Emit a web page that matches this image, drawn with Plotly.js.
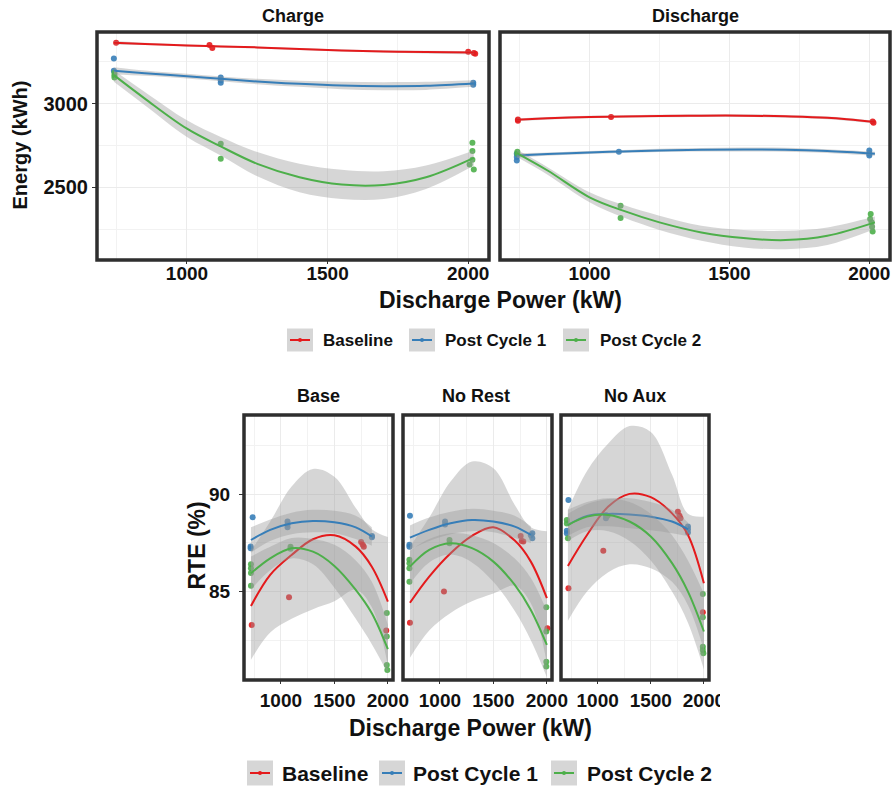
<!DOCTYPE html>
<html><head><meta charset="utf-8">
<script src="https://cdn.plot.ly/plotly-3.0.1.min.js"></script>
<style>html,body{margin:0;padding:0;background:#fff}</style>
</head><body><div id="chart" style="width:896px;height:789px"></div>
<script>
// ---------- labels ----------
const seriesNames = ['Baseline', 'Post Cycle 1', 'Post Cycle 2'];
const topFacets = ['Charge', 'Discharge'];
const btmFacets = ['Base', 'No Rest', 'No Aux'];
const xTitle = 'Discharge Power (kW)';
const topYTitle = 'Energy (kWh)';
const btmYTitle = 'RTE (%)';
const xTickVals = [1000, 1500, 2000];
const xMinorVals = [750, 1250, 1750];
const topYTickVals = [2500, 3000];
const topYMinorVals = [2250, 2750, 3250];
const btmYTickVals = [85, 90];
const btmYMinorVals = [82.5, 87.5, 92.5];

// ---------- top: Energy, Charge ----------
const topFitX = [740, 850, 1000, 1120, 1250, 1400, 1550, 1700, 1850, 2020];
const chargeBaseX = [748, 1080, 1090, 2000, 2020, 2025];
const chargeBaseY = [3364, 3350, 3332, 3310, 3302, 3298];
const chargeP1X = [740, 740, 1120, 1120, 1120, 2018, 2018];
const chargeP1Y = [3270, 3196, 3156, 3140, 3124, 3124, 3112];
const chargeP2X = [742, 742, 742, 1120, 1120, 2015, 2015, 2015, 2005, 2020];
const chargeP2Y = [3184, 3170, 3156, 2760, 2670, 2766, 2716, 2664, 2636, 2606];
const chargeBaseFit = [3364, 3357, 3348, 3342, 3336, 3326, 3318, 3312, 3308, 3305];
const chargeBaseLo = [3354, 3350, 3342, 3336, 3330, 3320, 3312, 3305, 3300, 3295];
const chargeBaseHi = [3374, 3364, 3354, 3348, 3342, 3332, 3324, 3319, 3316, 3315];
const chargeP1Fit = [3196, 3182, 3164, 3148, 3132, 3118, 3108, 3104, 3106, 3120];
const chargeP1Lo = [3174, 3166, 3150, 3134, 3116, 3100, 3086, 3080, 3082, 3100];
const chargeP1Hi = [3218, 3198, 3178, 3162, 3148, 3136, 3130, 3128, 3130, 3140];
const chargeP2Fit = [3170, 3030, 2850, 2744, 2640, 2560, 2516, 2514, 2560, 2676];
const chargeP2Lo = [3130, 2990, 2800, 2690, 2565, 2470, 2430, 2430, 2490, 2630];
const chargeP2Hi = [3200, 3070, 2900, 2800, 2710, 2640, 2604, 2596, 2630, 2720];

// ---------- top: Energy, Discharge ----------
const dischBaseX = [744, 744, 1077, 2012, 2015];
const dischBaseY = [2905, 2897, 2920, 2893, 2886];
const dischP1X = [740, 740, 740, 1105, 2000, 2000, 2000];
const dischP1Y = [2700, 2680, 2660, 2712, 2720, 2702, 2690];
const dischP2X = [742, 742, 1111, 1111, 2005, 2003, 2008, 2010, 2012];
const dischP2Y = [2712, 2700, 2390, 2316, 2340, 2310, 2290, 2264, 2236];
const dischBaseFit = [2904, 2912, 2920, 2923, 2926, 2928, 2928, 2924, 2915, 2890];
const dischBaseLo = [2896, 2904, 2912, 2915, 2918, 2920, 2920, 2916, 2907, 2882];
const dischBaseHi = [2912, 2920, 2928, 2931, 2934, 2936, 2936, 2932, 2923, 2898];
const dischP1Fit = [2690, 2698, 2708, 2714, 2720, 2724, 2726, 2724, 2716, 2700];
const dischP1Lo = [2676, 2688, 2699, 2705, 2710, 2713, 2714, 2712, 2705, 2688];
const dischP1Hi = [2704, 2708, 2717, 2723, 2730, 2735, 2738, 2736, 2727, 2712];
const dischP2Fit = [2704, 2600, 2440, 2360, 2290, 2230, 2196, 2184, 2210, 2290];
const dischP2Lo = [2680, 2575, 2410, 2320, 2245, 2180, 2140, 2130, 2155, 2250];
const dischP2Hi = [2725, 2620, 2470, 2395, 2330, 2270, 2245, 2240, 2260, 2325];

// ---------- bottom: RTE ----------
const btmFitX = [720, 900, 1100, 1300, 1500, 1700, 1850, 2000];
const btmBlueFitX = [720, 900, 1100, 1300, 1500, 1700, 1850];

// Base
const baseBaseX = [727, 1076, 1750, 1765, 1775, 1985];
const baseBaseY = [83.29, 84.71, 87.55, 87.4, 87.3, 83.0];
const baseBaseFit = [84.26, 85.86, 86.88, 87.69, 87.89, 87.31, 86.28, 84.49];
const baseBaseLo = [81.5, 82.9, 83.6, 84.1, 84.5, 85.1, 84.2, 81.2];
const baseBaseHi = [87.1, 88.6, 90.4, 91.3, 90.9, 89.3, 88.2, 87.8];
const baseP1X = [736, 717, 717, 1062, 1062, 1062, 1851, 1851];
const baseP1Y = [88.82, 87.31, 87.23, 88.6, 88.45, 88.3, 87.86, 87.79];
const baseP1Fit = [87.65, 88.17, 88.51, 88.63, 88.56, 88.3, 87.83];
const baseP1Lo = [87.0, 87.6, 87.95, 88.05, 88.0, 87.7, 87.35];
const baseP1Hi = [88.3, 88.7, 89.05, 89.2, 89.15, 88.9, 88.3];
const baseP2X = [720, 720, 720, 720, 1090, 1090, 1990, 1990, 1990, 1995];
const baseP2Y = [86.4, 86.2, 85.95, 85.3, 87.3, 87.2, 83.9, 82.7, 81.23, 80.98];
const baseP2Fit = [85.94, 86.71, 87.23, 87.05, 86.32, 85.09, 83.89, 82.04];
const baseP2Lo = [85.1, 86.1, 86.7, 86.4, 85.2, 83.6, 82.3, 80.8];
const baseP2Hi = [86.8, 87.3, 87.75, 87.7, 87.4, 86.6, 85.5, 83.3];

// No Rest
const nrBaseX = [720, 1038, 1755, 1765, 1780, 2005];
const nrBaseY = [83.4, 85.0, 87.86, 87.6, 87.57, 83.12];
const nrBaseFit = [84.43, 85.77, 86.97, 87.86, 88.3, 87.62, 86.54, 84.66];
const nrBaseLo = [81.6, 83.0, 83.9, 84.5, 84.9, 85.3, 84.4, 81.3];
const nrBaseHi = [87.3, 88.8, 90.65, 91.68, 91.34, 89.45, 88.3, 88.1];
const nrP1X = [720, 715, 715, 1048, 1048, 1850, 1864, 1864];
const nrP1Y = [88.89, 87.4, 87.3, 88.6, 88.45, 87.9, 88.0, 87.74];
const nrP1Fit = [87.77, 88.17, 88.51, 88.68, 88.6, 88.34, 87.91];
const nrP1Lo = [87.15, 87.6, 87.95, 88.1, 88.05, 87.75, 87.5];
const nrP1Hi = [88.4, 88.8, 89.1, 89.25, 89.15, 88.9, 88.35];
const nrP2X = [715, 715, 715, 715, 1090, 1090, 1995, 1995, 1995, 1995];
const nrP2Y = [86.63, 86.46, 86.2, 85.5, 87.65, 87.48, 84.2, 82.95, 81.4, 81.15];
const nrP2Fit = [86.28, 87.14, 87.48, 87.23, 86.54, 85.34, 84.06, 82.26];
const nrP2Lo = [85.4, 86.5, 86.9, 86.5, 85.5, 84.0, 82.5, 80.6];
const nrP2Hi = [87.1, 87.7, 88.0, 87.9, 87.5, 86.7, 85.7, 84.0];

// No Aux
const naBaseX = [725, 1053, 1755, 1770, 1780, 1990];
const naBaseY = [85.17, 87.1, 89.1, 88.9, 88.77, 83.94];
const naBaseFit = [86.32, 87.91, 89.37, 90.02, 89.85, 89.02, 87.91, 85.43];
const naBaseLo = [83.5, 85.0, 86.0, 86.4, 86.2, 85.5, 84.3, 82.0];
const naBaseHi = [89.2, 91.2, 92.6, 93.5, 93.2, 91.0, 89.0, 88.85];
const naP1X = [725, 710, 710, 1078, 1078, 1850, 1850, 1850];
const naP1Y = [89.71, 88.13, 88.0, 88.94, 88.77, 88.34, 88.2, 88.03];
const naP1Fit = [88.42, 88.89, 88.99, 88.96, 88.85, 88.6, 88.2];
const naP1Lo = [87.85, 88.3, 88.35, 88.25, 88.15, 88.0, 87.85];
const naP1Hi = [89.0, 89.5, 89.75, 89.8, 89.6, 89.2, 88.55];
const naP2X = [710, 710, 720, 1094, 1990, 1990, 1990, 1990, 1995];
const naP2Y = [88.68, 88.5, 87.74, 88.89, 84.88, 83.68, 82.17, 82.0, 81.83];
const naP2Fit = [88.42, 88.85, 88.94, 88.6, 87.83, 86.46, 85.0, 82.95];
const naP2Lo = [87.6, 88.1, 88.1, 87.6, 86.6, 85.0, 83.4, 81.0];
const naP2Hi = [89.2, 89.6, 89.8, 89.6, 89.0, 87.9, 86.6, 84.9];

// ---------- styling ----------
const COLORS = ['#E41A1C', '#377EB8', '#4DAF4A'];
const FONT = 'Liberation Sans, Arial, Helvetica, sans-serif';
const RIBBON = 'rgba(153,153,153,0.4)';
const W = 896, H = 789;
const px = v => v / W;
const py = v => 1 - v / H;

const traces = [];
function addPanel(xa, ya, pts, fits) {
  pts.forEach((p, i) => traces.push({
    type: 'scatter', mode: 'markers', x: p[0], y: p[1], xaxis: xa, yaxis: ya,
    marker: {color: COLORS[i], size: 6, opacity: 0.9}, showlegend: false, hoverinfo: 'skip'
  }));
  fits.forEach((f, i) => {
    traces.push({type: 'scatter', mode: 'lines', x: f[0], y: f[2], xaxis: xa, yaxis: ya,
      line: {width: 0, shape: 'spline'}, showlegend: false, hoverinfo: 'skip'});
    traces.push({type: 'scatter', mode: 'lines', x: f[0], y: f[3], xaxis: xa, yaxis: ya,
      line: {width: 0, shape: 'spline'}, fill: 'tonexty', fillcolor: RIBBON, showlegend: false, hoverinfo: 'skip'});
    traces.push({type: 'scatter', mode: 'lines', x: f[0], y: f[1], xaxis: xa, yaxis: ya,
      line: {width: 2, color: COLORS[i], shape: 'spline'}, showlegend: false, hoverinfo: 'skip'});
  });
}

addPanel('x', 'y',
  [[chargeBaseX, chargeBaseY], [chargeP1X, chargeP1Y], [chargeP2X, chargeP2Y]],
  [[topFitX, chargeBaseFit, chargeBaseLo, chargeBaseHi],
   [topFitX, chargeP1Fit, chargeP1Lo, chargeP1Hi],
   [topFitX, chargeP2Fit, chargeP2Lo, chargeP2Hi]]);
addPanel('x2', 'y2',
  [[dischBaseX, dischBaseY], [dischP1X, dischP1Y], [dischP2X, dischP2Y]],
  [[topFitX, dischBaseFit, dischBaseLo, dischBaseHi],
   [topFitX, dischP1Fit, dischP1Lo, dischP1Hi],
   [topFitX, dischP2Fit, dischP2Lo, dischP2Hi]]);
addPanel('x3', 'y3',
  [[baseBaseX, baseBaseY], [baseP1X, baseP1Y], [baseP2X, baseP2Y]],
  [[btmFitX, baseBaseFit, baseBaseLo, baseBaseHi],
   [btmBlueFitX, baseP1Fit, baseP1Lo, baseP1Hi],
   [btmFitX, baseP2Fit, baseP2Lo, baseP2Hi]]);
addPanel('x4', 'y4',
  [[nrBaseX, nrBaseY], [nrP1X, nrP1Y], [nrP2X, nrP2Y]],
  [[btmFitX, nrBaseFit, nrBaseLo, nrBaseHi],
   [btmBlueFitX, nrP1Fit, nrP1Lo, nrP1Hi],
   [btmFitX, nrP2Fit, nrP2Lo, nrP2Hi]]);
addPanel('x5', 'y5',
  [[naBaseX, naBaseY], [naP1X, naP1Y], [naP2X, naP2Y]],
  [[btmFitX, naBaseFit, naBaseLo, naBaseHi],
   [btmBlueFitX, naP1Fit, naP1Lo, naP1Hi],
   [btmFitX, naP2Fit, naP2Lo, naP2Hi]]);

function xAxis(d0, d1, range, anchor, fs, standoff) {
  return {domain: [px(d0), px(d1)], range: range, anchor: anchor,
    tickmode: 'array', tickvals: xTickVals, ticks: 'outside', ticklen: 3, tickwidth: 1, tickcolor: '#333',
    ticklabelstandoff: standoff,
    tickfont: {family: FONT, size: fs, color: '#111', weight: 700},
    showgrid: true, gridcolor: '#ebebeb', gridwidth: 1,
    minor: {tickmode: 'array', tickvals: xMinorVals, showgrid: true, gridcolor: '#f2f2f2', gridwidth: 1, ticks: ''},
    zeroline: false, showline: false, fixedrange: true};
}
function yAxis(top, bot, range, anchor, tv, mv, fs, labels) {
  return {domain: [py(bot), py(top)], range: range, anchor: anchor,
    tickmode: 'array', tickvals: tv, ticks: labels ? 'outside' : '', ticklen: 4, tickwidth: 1, tickcolor: '#333',
    showticklabels: labels, tickfont: {family: FONT, size: fs, color: '#111', weight: 700},
    showgrid: true, gridcolor: '#ebebeb', gridwidth: 1,
    minor: {tickmode: 'array', tickvals: mv, showgrid: true, gridcolor: '#f2f2f2', gridwidth: 1, ticks: ''},
    zeroline: false, showline: false, fixedrange: true};
}

const topRange = [680, 2074];
const topY = [2065, 3428];
const btmRange = [655, 2048];
const btmY = [80.46, 94.07];

const layout = {
  width: W, height: H, margin: {l: 0, r: 0, t: 0, b: 0},
  paper_bgcolor: '#fff', plot_bgcolor: '#fff', showlegend: false,
  xaxis: xAxis(97, 489, topRange, 'y', 19, -7),
  yaxis: yAxis(32, 260, topY, 'x', topYTickVals, topYMinorVals, 20, true),
  xaxis2: xAxis(500, 890, topRange, 'y2', 19, -7),
  yaxis2: yAxis(32, 260, topY, 'x2', topYTickVals, topYMinorVals, 20, false),
  xaxis3: xAxis(244, 393, btmRange, 'y3', 19, 0),
  yaxis3: yAxis(415, 680, btmY, 'x3', btmYTickVals, btmYMinorVals, 19, true),
  xaxis4: xAxis(403, 552, btmRange, 'y4', 19, 0),
  yaxis4: yAxis(415, 680, btmY, 'x4', btmYTickVals, btmYMinorVals, 19, false),
  xaxis5: xAxis(561, 709, btmRange, 'y5', 19, 0),
  yaxis5: yAxis(415, 680, btmY, 'x5', btmYTickVals, btmYMinorVals, 19, false),
  shapes: [], annotations: []
};
layout.yaxis3.ticklabelstandoff = 5;

['', '2', '3', '4', '5'].forEach(s => layout.shapes.push({
  type: 'rect', xref: 'x' + s + ' domain', yref: 'y' + s + ' domain', x0: 0, x1: 1, y0: 0, y1: 1,
  line: {color: '#2e2e2e', width: 3.5}, layer: 'above'
}));
// clip of last tick label (as in the reference crop)
layout.shapes.push({type: 'rect', xref: 'paper', yref: 'paper', x0: px(720), x1: 1, y0: py(715), y1: py(684),
  line: {width: 0}, fillcolor: '#fff', layer: 'above'});

function ann(text, x, y, size, opts) {
  layout.annotations.push(Object.assign({text: text, xref: 'paper', yref: 'paper', x: px(x), y: py(y),
    xanchor: 'center', yanchor: 'middle', showarrow: false,
    font: {family: FONT, size: size, color: '#111', weight: 700}}, opts || {}));
}
ann(topFacets[0], 293, 16, 18);
ann(topFacets[1], 695, 16, 18);
ann(btmFacets[0], 318, 396, 18);
ann(btmFacets[1], 476, 396, 18);
ann(btmFacets[2], 635, 396, 18);
ann(xTitle, 500, 300, 23);
ann(xTitle, 470, 728, 23);
ann(topYTitle, 19.5, 145, 20, {textangle: -90});
ann(btmYTitle, 196.5, 546, 23, {textangle: -90});

function legend(boxes, textX, yc, bw, bh, fs) {
  boxes.forEach((bx, i) => {
    layout.shapes.push({type: 'rect', xref: 'paper', yref: 'paper', x0: px(bx), x1: px(bx + bw),
      y0: py(yc + bh / 2), y1: py(yc - bh / 2), line: {width: 0}, fillcolor: '#d6d6d6', layer: 'above'});
    layout.shapes.push({type: 'line', xref: 'paper', yref: 'paper', x0: px(bx + 3), x1: px(bx + bw - 3),
      y0: py(yc), y1: py(yc), line: {color: COLORS[i], width: 2}, layer: 'above'});
    const cx = bx + bw / 2;
    layout.shapes.push({type: 'circle', xref: 'paper', yref: 'paper', x0: px(cx - 2), x1: px(cx + 2),
      y0: py(yc + 2), y1: py(yc - 2), line: {width: 0}, fillcolor: COLORS[i], layer: 'above'});
    ann(seriesNames[i], textX[i], yc, fs, {xanchor: 'left'});
  });
}
legend([287, 409, 563], [321, 443, 598], 340, 26, 23, 17);
legend([247, 379, 551], [280, 411, 585], 773, 26, 25, 21);

Plotly.newPlot('chart', traces, layout, {staticPlot: true, displayModeBar: false});
</script></body></html>
